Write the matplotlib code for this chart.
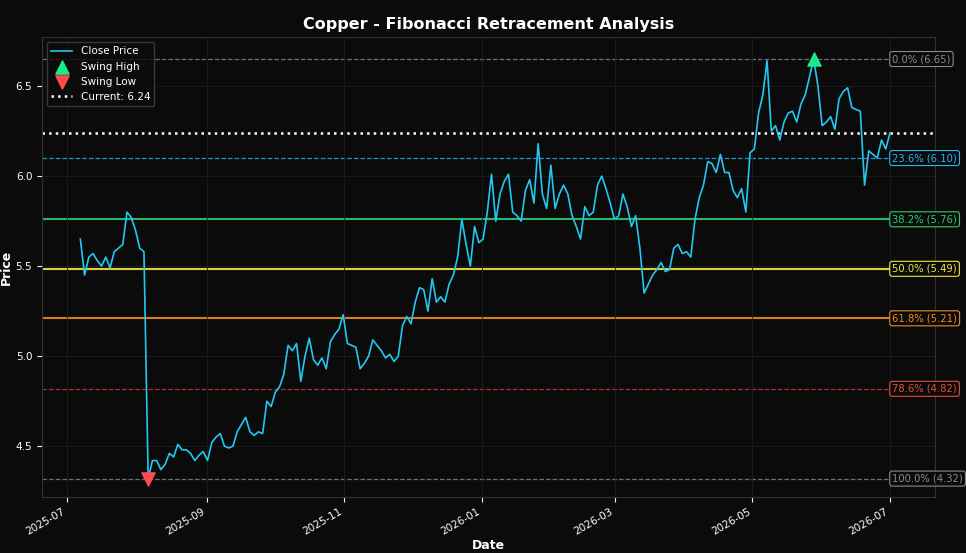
import numpy as np
import pandas as pd
import matplotlib
matplotlib.use("Agg")
import matplotlib.pyplot as plt
import matplotlib.dates as mdates

# Approximate close prices
close_values = [
    5.65, 5.45, 5.55, 5.57, 5.53, 5.50, 5.55, 5.49, 5.58, 5.60, 5.62, 5.80, 5.77, 5.70, 5.60, 5.58,
    4.32, 4.42, 4.42, 4.37, 4.40, 4.46, 4.44, 4.51, 4.48, 4.48, 4.46, 4.42, 4.45, 4.47, 4.42, 4.52,
    4.55, 4.57, 4.50, 4.49, 4.50, 4.58, 4.62, 4.66, 4.58, 4.56, 4.58, 4.57, 4.75, 4.72, 4.80, 4.83,
    4.90, 5.06, 5.03, 5.07, 4.86, 5.00, 5.10, 4.98, 4.95, 4.99, 4.93, 5.08, 5.12, 5.15, 5.23, 5.07,
    5.06, 5.05, 4.93, 4.96, 5.00, 5.09, 5.06, 5.03, 4.99, 5.01, 4.97, 5.00, 5.17, 5.22, 5.18, 5.30,
    5.38, 5.37, 5.25, 5.43, 5.30, 5.33, 5.30, 5.40, 5.45, 5.55, 5.76, 5.62, 5.50, 5.72, 5.63, 5.65,
    5.80, 6.01, 5.75, 5.90, 5.97, 6.01, 5.80, 5.78, 5.75, 5.92, 5.98, 5.85, 6.18, 5.90, 5.82, 6.06,
    5.82, 5.90, 5.95, 5.90, 5.78, 5.72, 5.65, 5.83, 5.78, 5.80, 5.95, 6.00, 5.93, 5.85, 5.76, 5.78,
    5.90, 5.83, 5.72, 5.78, 5.60, 5.35, 5.40, 5.45, 5.48, 5.52, 5.47, 5.48, 5.60, 5.62, 5.57, 5.58,
    5.55, 5.76, 5.88, 5.95, 6.08, 6.07, 6.02, 6.12, 6.02, 6.02, 5.92, 5.88, 5.93, 5.80, 6.13, 6.15,
    6.35, 6.45, 6.64, 6.25, 6.28, 6.20, 6.30, 6.35, 6.36, 6.30, 6.40, 6.45, 6.55, 6.65, 6.50, 6.28,
    6.30, 6.33, 6.26, 6.43, 6.47, 6.49, 6.38, 6.37, 6.36, 5.95, 6.14, 6.12, 6.10, 6.20, 6.15, 6.24,
]
dates = pd.date_range("2025-07-07", "2026-07-01", periods=len(close_values))
close = np.array(close_values)

fib_ratios = [0.0, 0.236, 0.382, 0.5, 0.618, 0.786, 1.0]
fib_colors = ["#8a8a8a", "#29b6f6", "#2ecc71", "#f1e740", "#f08a24", "#e74c3c", "#8a8a8a"]
fib_styles = ["--", "--", "-", "-", "-", "--", "--"]
fib_widths = [0.9, 0.9, 1.5, 1.5, 1.5, 0.9, 0.9]
fib_alpha = [0.8, 0.8, 0.9, 0.9, 0.9, 0.7, 0.8]

bg = "#0b0b0b"
i_hi = int(np.argmax(close))
i_lo = int(np.argmin(close))
hi, lo = close[i_hi], close[i_lo]
current = close[-1]

fig, ax = plt.subplots(figsize=(9.66, 5.53), dpi=100)
fig.patch.set_facecolor(bg)
ax.set_facecolor(bg)

x_end = pd.Timestamp("2026-07-21")
for r, c, ls, lw, a in zip(fib_ratios, fib_colors, fib_styles, fib_widths, fib_alpha):
    lvl = hi - (hi - lo) * r
    ax.axhline(lvl, color=c, linestyle=ls, linewidth=lw, alpha=a, zorder=1)
    ax.text(dates[-1] + pd.Timedelta(days=1), lvl, f"{r*100:.1f}% ({lvl:.2f})", color=c,
            fontsize=7.2, ha="left", va="center", zorder=5, clip_on=False,
            bbox=dict(boxstyle="round,pad=0.25", facecolor=bg, edgecolor=c, linewidth=0.8))

ax.plot(dates, close, color="#22c8f0", linewidth=1.2, label="Close Price", zorder=3)
ax.scatter(dates[i_hi], hi, marker="^", color="#1de98b", s=90, zorder=4, label="Swing High")
ax.scatter(dates[i_lo], lo, marker="v", color="#ff4b4b", s=90, zorder=4, label="Swing Low")
ax.axhline(current, color="white", linestyle=":", linewidth=1.8, label=f"Current: {current:.2f}", zorder=2)

ax.set_xlim(pd.Timestamp("2025-06-20"), x_end)
ax.set_ylim(4.217, 6.772)
ax.xaxis.set_major_locator(mdates.MonthLocator(bymonth=[1, 3, 5, 7, 9, 11]))
ax.xaxis.set_major_formatter(mdates.DateFormatter("%Y-%m"))
plt.setp(ax.get_xticklabels(), rotation=30, ha="right")
ax.tick_params(colors="white", labelsize=7.5)
for s in ax.spines.values():
    s.set_color("#333333")
ax.grid(True, color="#1e1e1e", linewidth=0.6)
ax.set_xlabel("Date", color="white", fontsize=9, fontweight="bold", labelpad=1)
ax.set_ylabel("Price", color="white", fontsize=9, fontweight="bold", labelpad=2)
ax.set_title("Copper - Fibonacci Retracement Analysis", color="white", fontsize=11.5, fontweight="bold")

ax.legend(loc="upper left", fontsize=7.5, facecolor=bg, edgecolor="#444444", labelcolor="white",
          scatterpoints=1)

fig.subplots_adjust(left=0.0435, right=0.968, top=0.933, bottom=0.101)
fig.savefig("out.png", dpi=100, facecolor=bg)
